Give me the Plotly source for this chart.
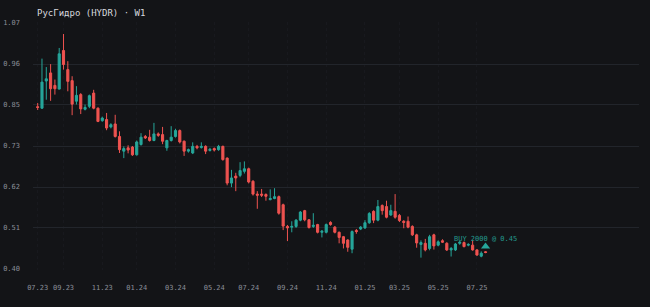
import pandas as pd
import plotly.graph_objects as go

title_text = "РусГидро (HYDR) · W1"
start_date = "2023-07-24"

opens = [0.842, 0.838, 0.912, 0.934, 0.900, 0.890, 0.995, 0.943, 0.913, 0.857,
         0.875, 0.835, 0.843, 0.879, 0.838, 0.804, 0.807, 0.787, 0.795, 0.761,
         0.721, 0.730, 0.732, 0.711, 0.739, 0.761, 0.759, 0.750, 0.768, 0.766,
         0.730, 0.750, 0.761, 0.777, 0.748, 0.721, 0.716, 0.734, 0.731, 0.734,
         0.723, 0.728, 0.725, 0.734, 0.702, 0.634, 0.653, 0.655, 0.666, 0.673,
         0.639, 0.604, 0.604, 0.603, 0.589, 0.592, 0.597, 0.575, 0.516, 0.514,
         0.516, 0.533, 0.559, 0.534, 0.516, 0.521, 0.500, 0.500, 0.527, 0.514,
         0.500, 0.488, 0.479, 0.454, 0.505, 0.509, 0.512, 0.526, 0.557, 0.533,
         0.573, 0.570, 0.547, 0.557, 0.546, 0.530, 0.530, 0.516, 0.493, 0.467,
         0.470, 0.456, 0.493, 0.465, 0.477, 0.470, 0.452, 0.452, 0.470, 0.472,
         0.465, 0.465, 0.452, 0.435, 0.447]
closes = [0.840, 0.909, 0.918, 0.891, 0.891, 0.986, 0.957, 0.911, 0.849, 0.873,
          0.836, 0.840, 0.872, 0.838, 0.802, 0.811, 0.784, 0.793, 0.761, 0.725,
          0.728, 0.724, 0.711, 0.746, 0.759, 0.757, 0.750, 0.768, 0.764, 0.748,
          0.750, 0.759, 0.777, 0.746, 0.721, 0.725, 0.734, 0.730, 0.734, 0.721,
          0.726, 0.724, 0.734, 0.698, 0.634, 0.648, 0.648, 0.668, 0.673, 0.637,
          0.604, 0.601, 0.601, 0.598, 0.592, 0.597, 0.552, 0.517, 0.512, 0.516,
          0.533, 0.555, 0.534, 0.513, 0.519, 0.500, 0.503, 0.521, 0.521, 0.500,
          0.486, 0.470, 0.459, 0.502, 0.502, 0.514, 0.526, 0.551, 0.533, 0.570,
          0.559, 0.541, 0.559, 0.541, 0.532, 0.527, 0.514, 0.493, 0.471, 0.472,
          0.452, 0.488, 0.463, 0.474, 0.473, 0.452, 0.456, 0.468, 0.473, 0.461,
          0.467, 0.452, 0.438, 0.443, 0.445]
highs = [0.852, 0.973, 0.950, 0.958, 0.916, 1.002, 1.040, 0.966, 0.925, 0.898,
         0.879, 0.848, 0.875, 0.888, 0.840, 0.815, 0.825, 0.797, 0.820, 0.775,
         0.734, 0.737, 0.735, 0.750, 0.770, 0.765, 0.779, 0.798, 0.772, 0.787,
         0.752, 0.789, 0.782, 0.780, 0.750, 0.728, 0.745, 0.738, 0.745, 0.737,
         0.730, 0.731, 0.738, 0.736, 0.704, 0.670, 0.662, 0.691, 0.693, 0.676,
         0.642, 0.612, 0.618, 0.606, 0.617, 0.620, 0.600, 0.578, 0.520, 0.530,
         0.536, 0.558, 0.561, 0.536, 0.552, 0.523, 0.506, 0.524, 0.530, 0.517,
         0.502, 0.490, 0.481, 0.505, 0.509, 0.517, 0.533, 0.555, 0.560, 0.588,
         0.576, 0.586, 0.575, 0.604, 0.550, 0.533, 0.543, 0.519, 0.496, 0.478,
         0.482, 0.493, 0.496, 0.478, 0.481, 0.473, 0.460, 0.471, 0.476, 0.475,
         0.470, 0.479, 0.454, 0.448, 0.449]
lows = [0.833, 0.836, 0.861, 0.858, 0.875, 0.889, 0.943, 0.884, 0.819, 0.848,
        0.822, 0.832, 0.838, 0.835, 0.800, 0.801, 0.778, 0.783, 0.758, 0.716,
        0.702, 0.715, 0.708, 0.709, 0.736, 0.754, 0.747, 0.748, 0.760, 0.740,
        0.722, 0.747, 0.758, 0.742, 0.708, 0.717, 0.713, 0.726, 0.728, 0.713,
        0.720, 0.720, 0.722, 0.695, 0.628, 0.623, 0.612, 0.650, 0.660, 0.633,
        0.600, 0.564, 0.596, 0.586, 0.587, 0.590, 0.548, 0.506, 0.476, 0.500,
        0.512, 0.530, 0.530, 0.510, 0.512, 0.497, 0.486, 0.497, 0.518, 0.497,
        0.470, 0.456, 0.447, 0.443, 0.496, 0.506, 0.509, 0.523, 0.525, 0.530,
        0.548, 0.538, 0.545, 0.537, 0.528, 0.511, 0.511, 0.490, 0.458, 0.431,
        0.448, 0.451, 0.453, 0.462, 0.471, 0.449, 0.434, 0.449, 0.466, 0.459,
        0.462, 0.450, 0.436, 0.432, 0.443]

y_ticks = [0.40, 0.5117, 0.6233, 0.735, 0.8467, 0.9583, 1.07]
y_tick_labels = ["0.40", "0.51", "0.62", "0.73", "0.85", "0.96", "1.07"]
x_tick_dates = ["2023-07-24", "2023-09-04", "2023-11-06", "2024-01-01", "2024-03-04",
                "2024-05-06", "2024-07-01", "2024-09-02", "2024-11-04", "2025-01-06",
                "2025-03-03", "2025-05-05", "2025-07-07"]
x_tick_labels = ["07.23", "09.23", "11.23", "01.24", "03.24", "05.24", "07.24",
                 "09.24", "11.24", "01.25", "03.25", "05.25", "07.25"]
trade_label = "BUY 2000 @ 0.45"
trade_price = 0.45

dates = pd.date_range(start_date, periods=len(opens), freq="7D")

UP = "#26a69a"
DOWN = "#ef5350"
BG = "#131417"
MONO = "DejaVu Sans Mono"

fig = go.Figure()
fig.add_trace(go.Candlestick(
    x=dates, open=opens, high=highs, low=lows, close=closes,
    increasing=dict(line=dict(color=UP, width=1), fillcolor=UP),
    decreasing=dict(line=dict(color=DOWN, width=1), fillcolor=DOWN),
    showlegend=False, hoverinfo="skip"))

fig.add_trace(go.Scatter(
    x=[dates[-1]], y=[0.461], mode="markers",
    marker=dict(symbol="triangle-up", size=8, color=UP),
    showlegend=False, hoverinfo="skip"))

fig.add_annotation(x=dates[-1], y=0.483, text=trade_label, showarrow=False,
                   font=dict(family=MONO, size=7, color="#23998d"),
                   xanchor="center", yanchor="middle")

fig.add_annotation(xref="paper", yref="paper", x=0, y=1, xshift=2, yshift=9,
                   text=title_text, showarrow=False, xanchor="left", yanchor="middle",
                   font=dict(family=MONO, size=9, color="#d6d8de"))

x0 = pd.Timestamp(start_date) - pd.Timedelta(days=7.6)
x1 = pd.Timestamp(start_date) + pd.Timedelta(days=977.4)
pad = 0.0027

fig.update_layout(
    width=650, height=307,
    margin=dict(l=33, r=11, t=22, b=37, autoexpand=False),
    paper_bgcolor=BG, plot_bgcolor=BG,
    xaxis=dict(type="date", range=[x0, x1], rangeslider=dict(visible=False),
               tickmode="array", tickvals=list(pd.to_datetime(x_tick_dates)),
               ticktext=x_tick_labels, showgrid=True, gridcolor="#18191e",
               griddash="dot", gridwidth=1, zeroline=False, showline=False,
               ticks="", ticklabelstandoff=12, automargin=False,
               tickfont=dict(family=MONO, size=7, color="#8a8e97")),
    yaxis=dict(range=[0.40 - pad, 1.07 + pad], tickmode="array",
               tickvals=y_ticks, ticktext=y_tick_labels,
               showgrid=True, gridcolor="#22252b", gridwidth=1,
               zeroline=False, showline=False, ticks="",
               ticklabelstandoff=12, automargin=False,
               tickfont=dict(family=MONO, size=7, color="#8a8e97")),
)

fig.write_html("out.html")
